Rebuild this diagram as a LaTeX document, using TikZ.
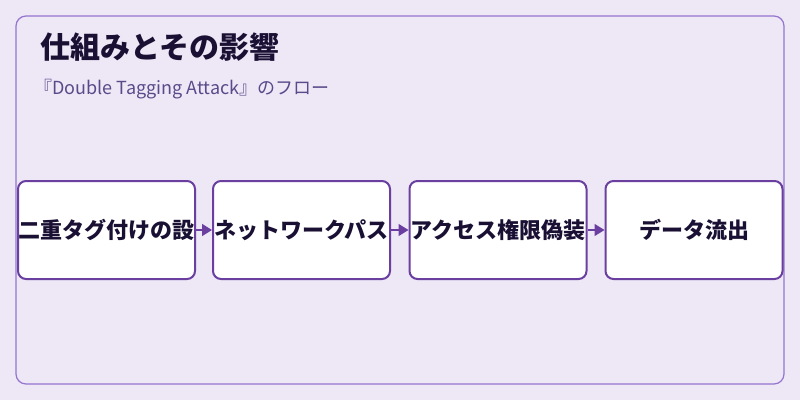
\documentclass[tikz,border=0pt]{standalone}
\usepackage{fontspec}
\setmainfont{Noto Sans CJK JP}
\usetikzlibrary{arrows.meta}
\definecolor{bg}{HTML}{EDE7F6}
\definecolor{frame}{HTML}{9575CD}
\definecolor{boxline}{HTML}{6A3FA0}
\definecolor{titlec}{HTML}{1A1033}
\definecolor{subc}{HTML}{5A4A8A}
\tikzset{
 stepbox/.style={draw=boxline,line width=2pt,fill=white,rounded corners=8pt,minimum width=177pt,minimum height=98pt,inner sep=0pt,font=\bfseries\fontsize{22}{24}\selectfont,text=titlec},
 flow/.style={draw=boxline,line width=1.5pt,-{Triangle[length=10pt,width=12pt]},fill=boxline}
}
\begin{document}
\begin{tikzpicture}[x=1pt,y=-1pt]
\fill[bg] (0,0) rectangle (800,400);
\useasboundingbox (0,0) rectangle (800,400);
\draw[frame,line width=1.2pt,rounded corners=10pt] (16,16) rectangle (784,384);
\node[anchor=west,font=\bfseries\fontsize{30}{32}\selectfont,text=titlec] (title) at (37,47) {仕組みとその影響};
\node[anchor=west,font=\fontsize{18}{20}\selectfont,text=subc] (sub) at (31,89) {『Double Tagging Attack』のフロー};
\node[stepbox] (a) at (106.5,230) {二重タグ付けの設};
\node[stepbox] (b) at (301.5,230) {ネットワークパス};
\node[stepbox] (c) at (498,230) {アクセス権限偽装};
\node[stepbox] (d) at (694,230) {データ流出};
\draw[flow] (a) -- (b);
\draw[flow] (b) -- (c);
\draw[flow] (c) -- (d);
\end{tikzpicture}
\end{document}
